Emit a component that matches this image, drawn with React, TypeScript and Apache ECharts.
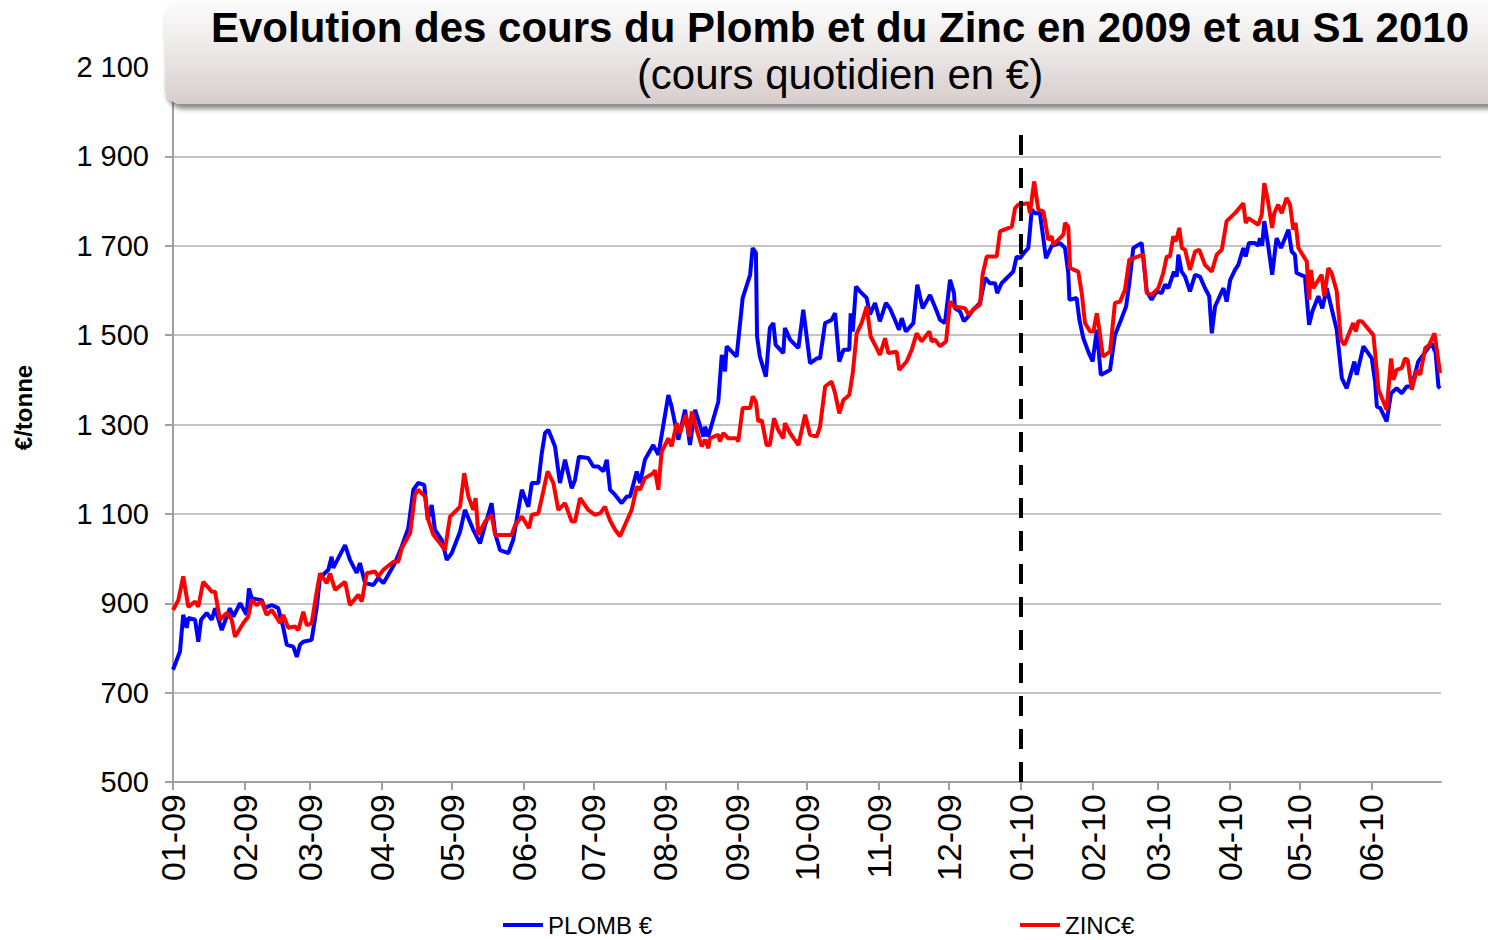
import React, { useEffect, useRef } from 'react';
import * as echarts from 'echarts';

// x values are days counted from 1 Jan 2009 (day 365 = 1 Jan 2010)
const monthTickDays = [0, 31, 59, 90, 120, 151, 181, 212, 243, 273, 304, 334, 365, 396, 424, 455, 485, 516];
const monthTickLabels = ['01-09', '02-09', '03-09', '04-09', '05-09', '06-09', '07-09', '08-09', '09-09', '10-09', '11-09', '12-09', '01-10', '02-10', '03-10', '04-10', '05-10', '06-10'];
const yTickValues = [500, 700, 900, 1100, 1300, 1500, 1700, 1900, 2100];

const plombDays = [
  0, 3, 4.4, 5.9, 6.6, 9.5, 10.9, 12.1, 14.5, 16.7,
  18.1, 21, 24.5, 26, 28.9, 31.7, 32.7, 33.9, 38.2, 39.6,
  42.5, 45.3, 47.5, 49, 51.8, 53.3, 54.7, 56.1, 59.7, 61.9,
  63.3, 66.9, 68.3, 69, 74.1, 76.2, 79.1, 80.5, 82.7, 86.3,
  88.4, 90.6, 95.6, 98.5, 101.3, 103.5, 105.6, 108.2, 109.7, 111.4,
  112.8, 115.7, 117.9, 120, 123.6, 125.7, 129.3, 132.2, 134.4, 137.2,
  138.7, 140.8, 144.4, 146.5, 150.2, 153, 154.5, 157.3, 158.8, 160.2,
  161.6, 164.5, 166.6, 168.8, 171.7, 173.1, 174.8, 178.8, 181, 183.1,
  185.3, 186.8, 188.2, 190.3, 193.2, 195.4, 196.8, 199.7, 201.1, 203.2,
  206.8, 209, 213.3, 214.7, 217.6, 220.5, 222.6, 224.8, 228.4, 229.1,
  230.5, 234.8, 236.3, 237.7, 238.4, 242.7, 245.3, 248.5, 249.6, 251,
  251.5, 252.7, 255.3, 257, 258.5, 259.5, 262.8, 263.5, 265.7, 269.3,
  271.4, 274.3, 277.2, 278.6, 280.8, 283.6, 285.1, 286.9, 288.7, 291.2,
  291.8, 292.7, 294.1, 295.8, 298.7, 300.1, 302.3, 304.4, 307, 308.7,
  310.9, 312.6, 313.8, 315.6, 318.8, 320.5, 322.8, 326, 328.9, 330.3,
  332.4, 334.6, 336.3, 336.7, 338.9, 340.6, 342.5, 344.6, 347.5, 349.7,
  351.8, 354, 354.9, 356.8, 361.8, 363.3, 364.7, 366.9, 368.3, 369.8,
  371.2, 373.3, 375.9, 378.4, 382, 384.1, 385.5, 386, 389.1, 390.3,
  392, 394.1, 396, 397.8, 399.5, 403.5, 405.6, 408.5, 410.4, 411.8,
  413.5, 417.1, 419.3, 421.4, 423.6, 425.7, 427.2, 428.6, 431, 432.2,
  432.9, 434.3, 435.8, 437.9, 440.1, 442.2, 444.4, 446.2, 447.3, 448.7,
  452.3, 453.7, 455.2, 457.3, 458.7, 460.9, 461.9, 463.3, 465.9, 467.3,
  468, 469, 469.9, 471.6, 473.3, 475.2, 477.1, 480.3, 481.7, 483.1,
  483.8, 487.4, 489.2, 490.6, 493.2, 494.9, 496.8, 499, 501.1, 503.3,
  505.4, 506.8, 508.7, 509.7, 512.6, 516.2, 517.6, 518.4, 519.8, 522.6,
  524.5, 526.9, 529.1, 531.2, 533.4, 536.2, 538.4, 542, 543.7, 544.9,
  545.6,
];
const plombValues = [
  751, 792, 874, 845, 867, 863, 814, 863, 878, 863,
  889, 840, 889, 870, 900, 874, 933, 911, 907, 889,
  896, 889, 845, 807, 803, 780, 807, 814, 818, 892,
  957, 975, 1004, 979, 1030, 997, 968, 990, 945, 941,
  957, 945, 990, 1027, 1068, 1154, 1169, 1165, 1087, 1120,
  1064, 1042, 997, 1012, 1060, 1109, 1064, 1034, 1075, 1124,
  1057, 1019, 1012, 1042, 1154, 1116, 1169, 1169, 1236, 1281,
  1288, 1251, 1169, 1221, 1157, 1176, 1228, 1225, 1206, 1206,
  1195, 1221, 1154, 1143, 1124, 1139, 1139, 1195, 1169, 1221,
  1254, 1232, 1366, 1340, 1266, 1333, 1254, 1333, 1273, 1295,
  1273, 1351, 1456, 1419, 1475, 1452, 1583, 1635, 1695, 1684,
  1497, 1452, 1407, 1516, 1527, 1478, 1460, 1516, 1490, 1471,
  1557, 1437, 1448, 1448, 1527, 1534, 1549, 1441, 1467, 1467,
  1549, 1508, 1609, 1598, 1583, 1546, 1572, 1531, 1572, 1560,
  1534, 1512, 1538, 1508, 1527, 1613, 1560, 1590, 1553, 1534,
  1527, 1624, 1594, 1560, 1553, 1531, 1542, 1557, 1572, 1628,
  1616, 1616, 1594, 1616, 1642, 1676, 1672, 1687, 1695, 1781,
  1773, 1773, 1672, 1700, 1706, 1695, 1639, 1579, 1583, 1534,
  1493, 1463, 1441, 1512, 1411, 1422, 1500, 1538, 1564, 1616,
  1695, 1706, 1598, 1579, 1598, 1594, 1613, 1605, 1642, 1631,
  1680, 1642, 1631, 1598, 1635, 1631, 1605, 1587, 1504, 1564,
  1605, 1575, 1623, 1646, 1657, 1695, 1676, 1706, 1706, 1700,
  1717, 1700, 1755, 1700, 1635, 1717, 1695, 1736, 1687, 1680,
  1639, 1631, 1523, 1553, 1587, 1560, 1605, 1557, 1512, 1404,
  1381, 1407, 1441, 1411, 1475, 1448, 1396, 1340, 1337, 1307,
  1370, 1381, 1370, 1385, 1385, 1441, 1456, 1482, 1460, 1385,
  1381,
];

const zincDays = [
  0, 2.3, 4.4, 6.6, 9.5, 10.9, 13, 16.7, 18.1, 20.2,
  23.1, 25.3, 26.7, 30.3, 32.4, 33.9, 36, 38.2, 40.3, 42.5,
  46.1, 47.5, 49.6, 52.5, 54, 56.1, 57.6, 59.7, 61.9, 63.3,
  66.2, 67.6, 69.8, 74.1, 76.2, 79.8, 81.3, 83.4, 87, 88.4,
  90.6, 94.9, 97, 98.5, 102.1, 104.2, 105.6, 108.5, 109.9, 112.1,
  115, 117.1, 119.3, 123.6, 125.4, 127.2, 129.3, 130.3, 131.5, 134.4,
  137.2, 138.7, 145.8, 147.3, 150.2, 153.3, 154.5, 157.3, 158.8, 161.3,
  163.8, 165.9, 168.8, 171.7, 173.1, 175.3, 178.8, 181.7, 183.9, 186,
  188.2, 190.3, 192.5, 194.6, 197.5, 199.7, 201.1, 203.2, 206.8, 207.5,
  209, 210.4, 213.3, 214.7, 216.9, 218.3, 220.9, 222.3, 223.4, 225.5,
  227.7, 229.1, 230.5, 231.2, 234.8, 235.5, 237, 239.1, 242.7, 243.4,
  245.3, 248.5, 249.6, 251, 252, 253.5, 255.6, 257, 258.8, 260.6,
  262.8, 263.5, 265.7, 269.3, 272.2, 274.3, 277.2, 278.6, 280.8, 283.6,
  285.1, 286.9, 288.7, 291.2, 292.7, 294.4, 296.5, 298.7, 300.4, 302.3,
  304.4, 306.6, 308, 311.6, 312.7, 315.9, 318.1, 320.2, 322.4, 325.7,
  326.7, 328.1, 330.3, 332.9, 334.6, 336.3, 341, 342.5, 344.6, 347.5,
  348.6, 350.4, 354.7, 356.1, 361.2, 362.6, 364, 368.3, 369, 370.8,
  372.6, 374.8, 376.9, 378.4, 379.1, 383.4, 384.1, 385.5, 386.3, 389.8,
  391.3, 392.7, 394.9, 396.3, 397.8, 398.9, 400.4, 403.5, 405.6, 407.8,
  409.9, 411.8, 413.5, 415.7, 417.8, 419.3, 421.4, 424.3, 426.4, 427.9,
  429.3, 430.7, 431.9, 433.3, 434.4, 435.8, 437.9, 440.1, 441.9, 444.4,
  447.3, 449.4, 451.6, 453.7, 457.3, 460.9, 461.9, 463, 467.3, 468.8,
  469.9, 471.4, 473.3, 474.2, 475.9, 477.4, 479.5, 481, 482.4, 483.4,
  484.6, 488.2, 489.2, 490, 491, 494.6, 495.7, 497.5, 498.9, 501.1,
  502.9, 504.4, 508.2, 509.3, 510.4, 511.9, 516.9, 519.1, 522.6, 524.5,
  525.5, 526.9, 529.1, 530.5, 531.7, 533.4, 535.6, 537, 539.2, 540.9,
  543.2, 545.6,
];
const zincValues = [
  885, 907, 960, 892, 904, 892, 948, 926, 926, 863,
  878, 863, 825, 856, 870, 907, 896, 904, 874, 885,
  856, 874, 845, 848, 840, 881, 851, 855, 926, 967,
  945, 967, 930, 948, 896, 919, 904, 967, 971, 960,
  975, 993, 993, 1023, 1057, 1143, 1154, 1139, 1087, 1053,
  1034, 1019, 1094, 1116, 1191, 1139, 1109, 1135, 1053, 1083,
  1098, 1053, 1053, 1075, 1094, 1068, 1098, 1101, 1135, 1195,
  1169, 1109, 1124, 1083, 1083, 1135, 1109, 1098, 1101, 1116,
  1085, 1065, 1050, 1075, 1109, 1161, 1154, 1180, 1191, 1198,
  1154, 1239, 1269, 1251, 1303, 1281, 1322, 1273, 1329, 1288,
  1251, 1266, 1247, 1269, 1277, 1262, 1281, 1269, 1269, 1262,
  1337, 1337, 1363, 1351, 1307, 1310, 1254, 1254, 1314, 1288,
  1269, 1303, 1281, 1254, 1322, 1277, 1273, 1295, 1385, 1396,
  1370, 1325, 1355, 1366, 1415, 1504, 1527, 1564, 1497, 1478,
  1456, 1493, 1460, 1463, 1422, 1441, 1467, 1504, 1486, 1508,
  1486, 1490, 1475, 1486, 1575, 1564, 1560, 1546, 1557, 1568,
  1635, 1676, 1676, 1732, 1743, 1784, 1792, 1795, 1773, 1844,
  1781, 1777, 1713, 1721, 1702, 1725, 1751, 1743, 1650, 1642,
  1594, 1527, 1508, 1508, 1549, 1512, 1452, 1463, 1572, 1575,
  1601, 1669, 1672, 1676, 1680, 1594, 1590, 1605, 1639, 1676,
  1676, 1721, 1710, 1740, 1695, 1691, 1646, 1687, 1691, 1657,
  1642, 1680, 1691, 1755, 1773, 1795, 1751, 1762, 1747, 1769,
  1840, 1803, 1740, 1773, 1792, 1773, 1807, 1792, 1736, 1751,
  1695, 1665, 1579, 1646, 1605, 1635, 1587, 1650, 1639, 1598,
  1490, 1478, 1527, 1508, 1531, 1531, 1500, 1378, 1333, 1448,
  1400, 1422, 1426, 1448, 1444, 1378, 1422, 1411, 1471, 1478,
  1504, 1415,
];

const separatorDay = 365; // 01-10
const separatorFrom = 500;
const separatorTo = 1960;

const FONT = '"Liberation Sans", Arial, Helvetica, sans-serif';

function fmtThousands(v: number): string {
  if (v >= 1000) {
    const th = Math.floor(v / 1000);
    const rest = String(v % 1000).padStart(3, '0');
    return th + ' ' + rest;
  }
  return String(v);
}

export default function App() {
  const ref = useRef<HTMLDivElement>(null);
  useEffect(() => {
    if (!ref.current) return;
    const chart = echarts.init(ref.current, undefined, { renderer: 'svg' });
    const plombData = plombDays.map((d, i) => [d, plombValues[i]]);
    const zincData = zincDays.map((d, i) => [d, zincValues[i]]);
    chart.setOption({
      animation: false,
      backgroundColor: '#ffffff',
      textStyle: { fontFamily: FONT },
      grid: { left: 173, right: 47, top: 67, bottom: 158, containLabel: false },
      xAxis: {
        type: 'value',
        min: 0,
        max: 546,
        axisLine: { show: true, lineStyle: { color: '#a0a0a0', width: 2 } },
        axisTick: { show: true, customValues: monthTickDays, length: 8, lineStyle: { color: '#a0a0a0', width: 2 } },
        axisLabel: {
          customValues: monthTickDays,
          rotate: 90,
          margin: 12,
          fontSize: 34,
          color: '#000',
          fontFamily: FONT,
          formatter: (v: number) => {
            const idx = monthTickDays.indexOf(Math.round(v));
            return idx >= 0 ? monthTickLabels[idx] : '';
          },
        },
        splitLine: { show: false },
      },
      yAxis: {
        type: 'value',
        min: yTickValues[0],
        max: yTickValues[yTickValues.length - 1],
        interval: 200,
        name: '€/tonne',
        nameLocation: 'middle',
        nameRotate: 90,
        nameGap: 138,
        nameTextStyle: { fontSize: 24, fontWeight: 'bold', color: '#000', fontFamily: FONT, padding: [0, 0, 0, 34] },
        axisLine: { show: true, lineStyle: { color: '#a0a0a0', width: 2 } },
        axisTick: { show: true, length: 8, lineStyle: { color: '#a0a0a0', width: 2 } },
        axisLabel: {
          fontSize: 29,
          color: '#000',
          margin: 24,
          fontFamily: FONT,
          formatter: (v: number) => fmtThousands(v),
        },
        splitLine: { show: true, lineStyle: { color: '#c4c4c4', width: 2 } },
      },
      legend: [
        {
          left: 498,
          top: 908,
          data: ['PLOMB €'],
          icon: 'rect',
          itemWidth: 40,
          itemHeight: 4,
          itemGap: 10,
          textStyle: { fontSize: 24, color: '#000', fontFamily: FONT },
        },
        {
          left: 1015,
          top: 908,
          data: ['ZINC€'],
          icon: 'rect',
          itemWidth: 40,
          itemHeight: 4,
          itemGap: 10,
          textStyle: { fontSize: 24, color: '#000', fontFamily: FONT },
        },
      ],
      series: [
        {
          name: 'PLOMB €',
          type: 'line',
          data: plombData,
          showSymbol: false,
          symbol: 'none',
          lineStyle: { color: '#0000ff', width: 4 },
          itemStyle: { color: '#0000ff' },
          z: 3,
        },
        {
          name: 'ZINC€',
          type: 'line',
          data: zincData,
          showSymbol: false,
          symbol: 'none',
          lineStyle: { color: '#ff0000', width: 4 },
          itemStyle: { color: '#ff0000' },
          z: 4,
          markLine: {
            silent: true,
            symbol: ['none', 'none'],
            label: { show: false },
            lineStyle: { color: '#000000', width: 4, type: [20, 13] },
            data: [[{ coord: [separatorDay, separatorFrom] }, { coord: [separatorDay, separatorTo] }]],
          },
        },
      ],
      graphic: [
        {
          type: 'group',
          z: 100,
          children: [
            {
              type: 'rect',
              shape: { x: 165, y: -2, width: 1340, height: 106, r: 16 },
              style: {
                fill: new echarts.graphic.LinearGradient(0, 0, 0, 1, [
                  { offset: 0, color: '#fdfdfd' },
                  { offset: 0.45, color: '#eeeaea' },
                  { offset: 1, color: '#d7cdcd' },
                ]),
                shadowBlur: 5,
                shadowOffsetX: 2,
                shadowOffsetY: 5,
                shadowColor: 'rgba(0,0,0,0.45)',
              },
              z: 100,
            },
            {
              type: 'text',
              x: 840,
              y: 27,
              style: {
                text: 'Evolution des cours du Plomb et du Zinc en 2009 et au S1 2010',
                font: 'bold 42px ' + FONT,
                fill: '#000',
                textAlign: 'center',
                textVerticalAlign: 'middle',
              },
              z: 101,
            },
            {
              type: 'text',
              x: 840,
              y: 74,
              style: {
                text: '(cours quotidien en €)',
                font: '42px ' + FONT,
                fill: '#000',
                textAlign: 'center',
                textVerticalAlign: 'middle',
              },
              z: 101,
            },
          ],
        },
      ],
    });
    return () => chart.dispose();
  }, []);
  return (
    <div
      ref={ref}
      style={{ position: 'absolute', left: 0, top: 0, width: 1488, height: 940, background: '#fff' }}
    />
  );
}
